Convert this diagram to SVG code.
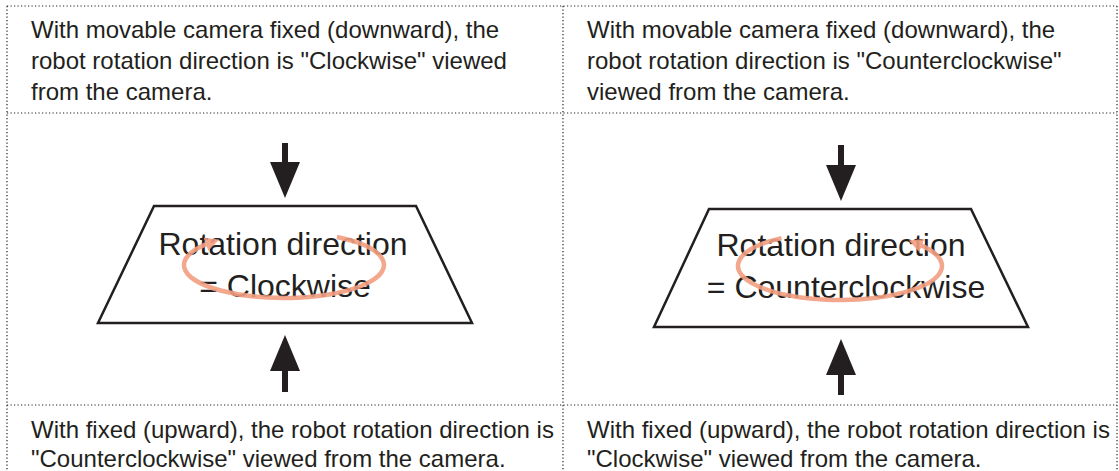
<svg xmlns="http://www.w3.org/2000/svg" width="1119" height="471" viewBox="0 0 1119 471">
<defs>
<style>
.grid{stroke:#231f20;stroke-width:1.2;stroke-dasharray:1.2 2.3;fill:none}
.cell{font-family:"Liberation Sans",Arial,sans-serif;font-size:24px;fill:#231f20}
.big{font-family:"Liberation Sans",Arial,sans-serif;font-size:32px;fill:#231f20;text-anchor:middle}
.trap{fill:#ffffff;stroke:#231f20;stroke-width:2.5;stroke-linejoin:miter}
.arrow{stroke:#231f20;stroke-width:6;fill:none;marker-end:url(#head)}
.rot{stroke:#f29e80;stroke-width:4.5;fill:none;opacity:0.9;marker-end:url(#ohead)}
</style>
<marker id="head" viewBox="0 0 36 30" refX="4" refY="15" markerWidth="36" markerHeight="30" markerUnits="userSpaceOnUse" orient="auto">
<path d="M0,0 L36,15 L0,30 z" fill="#231f20"/>
</marker>
<marker id="ohead" viewBox="0 0 14 14" refX="4" refY="7" markerWidth="14" markerHeight="14" markerUnits="userSpaceOnUse" orient="auto">
<path d="M0,0 L14,7 L0,14 z" fill="#f29e80"/>
</marker>
</defs>
<rect x="0" y="0" width="1119" height="471" fill="#ffffff"/>
<g id="grid">
<line class="grid" x1="7" y1="6" x2="1117" y2="6"/>
<line class="grid" x1="7" y1="113" x2="1117" y2="113"/>
<line class="grid" x1="7" y1="405" x2="1117" y2="405"/>
<line class="grid" x1="7" y1="6" x2="7" y2="471"/>
<line class="grid" x1="563" y1="6" x2="563" y2="471"/>
<line class="grid" x1="1117" y1="6" x2="1117" y2="471"/>
</g>
<g id="cell-top-left">
<text class="cell" x="31" y="38">With movable camera fixed (downward), the</text>
<text class="cell" x="31" y="69">robot rotation direction is "Clockwise" viewed</text>
<text class="cell" x="31" y="100">from the camera.</text>
</g>
<g id="cell-top-right">
<text class="cell" x="587" y="38">With movable camera fixed (downward), the</text>
<text class="cell" x="587" y="69">robot rotation direction is "Counterclockwise"</text>
<text class="cell" x="587" y="100">viewed from the camera.</text>
</g>
<g id="cell-bottom-left">
<text class="cell" x="31" y="438">With fixed (upward), the robot rotation direction is</text>
<text class="cell" x="31" y="467">"Counterclockwise" viewed from the camera.</text>
</g>
<g id="cell-bottom-right">
<text class="cell" x="587" y="438">With fixed (upward), the robot rotation direction is</text>
<text class="cell" x="587" y="467">"Clockwise" viewed from the camera.</text>
</g>
<g id="node-clockwise">
<path class="trap" d="M154,206 L416,206 L472,323 L98,323 Z"/>
<text class="big" x="283" y="255">Rotation direction</text>
<text class="big" x="285" y="297">= Clockwise</text>
<path class="rot" d="M337,237 A100,33 0 1 1 209.7,242.9"/>
</g>
<g id="node-counterclockwise">
<path class="trap" d="M709,209 L971,209 L1028,327 L654,327 Z"/>
<text class="big" x="841" y="256">Rotation direction</text>
<text class="big" x="846" y="298">= Counterclockwise</text>
<path class="rot" d="M781.5,238.1 A102,34 0 1 0 918.1,244.1"/>
</g>
<g id="connectors">
<line class="arrow" x1="285" y1="143" x2="285" y2="166"/>
<line class="arrow" x1="285" y1="392" x2="285" y2="367"/>
<line class="arrow" x1="841" y1="145" x2="841" y2="169"/>
<line class="arrow" x1="841" y1="395" x2="841" y2="371"/>
</g>
</svg>
